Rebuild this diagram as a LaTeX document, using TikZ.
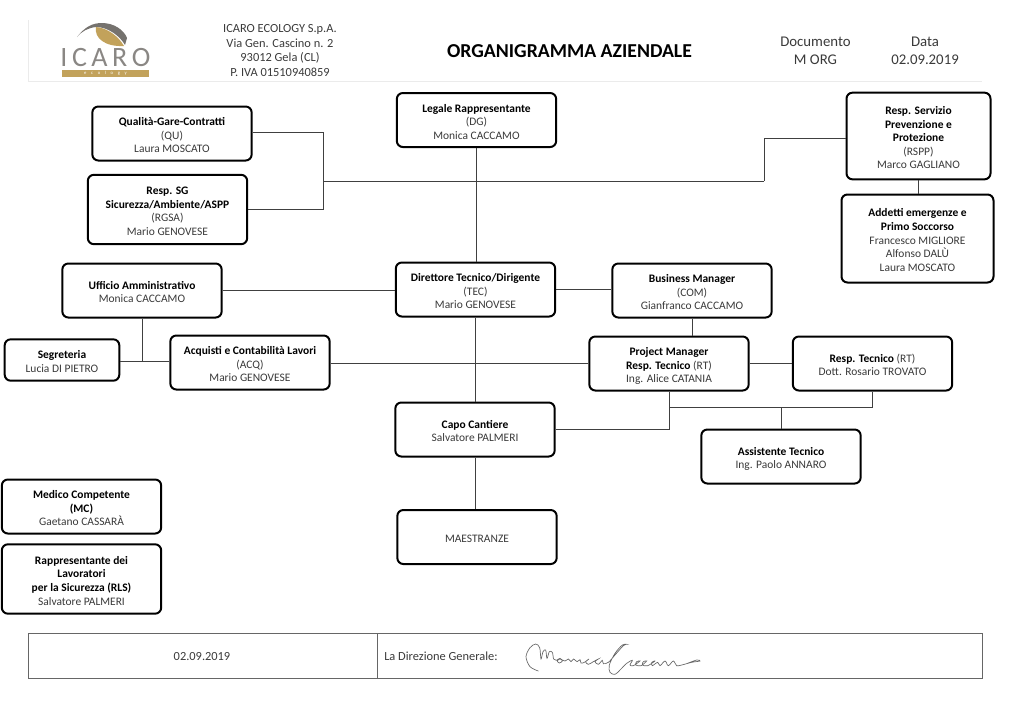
\documentclass[tikz,border=0pt]{standalone}
\usepackage{fontspec}
\setmainfont{Carlito}
\usepackage{tikz}
\usetikzlibrary{positioning, arrows.meta}
\usepackage{xcolor}
\definecolor{logogold}{HTML}{C2A25B}
\definecolor{logogrey}{HTML}{75726E}
\definecolor{txtgrey}{HTML}{3A3A3A}
\tikzset{
  box/.style={rectangle, rounded corners=4.5pt, draw=black, fill=white,
              line width=1.5pt, minimum width=119.5pt, minimum height=40.5pt,
              align=center, inner sep=0pt, text=txtgrey,
              font=\fontsize{8.6}{10.2}\selectfont},
  lnk/.style={draw=black!75, line width=0.7pt},
  hdtxt/.style={align=center, text=txtgrey, inner sep=0pt,
                font=\fontsize{9.3}{11.2}\selectfont},
  doctxt/.style={align=center, text=txtgrey, inner sep=0pt,
                 font=\fontsize{11.1}{13.5}\selectfont},
  cell/.style={text=txtgrey, inner sep=0pt, font=\fontsize{9.3}{10}\selectfont},
  frame/.style={draw=black!60, line width=0.7pt},
}
\newcommand{\hd}[1]{\textbf{\textcolor{black}{#1}}}
\newcommand{\low}[1]{\raisebox{-2.2pt}[\height][\depth]{\begin{tabular}{@{}c@{}}#1\end{tabular}}}
\begin{document}
\begin{tikzpicture}[x=0.75pt,y=-0.75pt]
  \useasboundingbox (0,0) rectangle (1024,715);

  % header
  \draw[black!8, line width=0.7pt] (28,20) -- (28,81) -- (982,81);
  \fill[logogrey] (77,37) .. controls (85,27) and (92,23) .. (102,23) .. controls (114,23) and (124,30) .. (127,38) -- (125,45) .. controls (120,36) and (108,27) .. (96,27) .. controls (88,28) and (82,31) .. (77,37) -- cycle;
  \fill[logogold] (96,27) .. controls (94,38) and (105,47) .. (124,46) .. controls (119,37) and (108,28) .. (96,27) -- cycle;
  \node[inner sep=0pt, text=logogrey!85, font=\fontsize{21}{21}\selectfont] (logotxt) at (105.5,58) {I\hspace{3.4pt}C\hspace{3.4pt}A\hspace{3.4pt}R\hspace{3.4pt}O};
  \node[inner sep=0pt, minimum width=65pt, minimum height=5pt, fill=logogold, text=white,
        font=\fontsize{3.5}{3.5}\selectfont] (logoband) at (105.5,73.5) {e\quad c\quad o\quad l\quad o\quad g\quad y};
  \node[hdtxt] (azienda) at (280,50.5) {ICARO ECOLOGY S.p.A.\\Via Gen. Cascino n. 2\\93012 Gela (CL)\\P. IVA 01510940859};
  \node[inner sep=0pt, font=\fontsize{14.8}{16}\selectfont\bfseries] (titolo) at (569.5,51) {ORGANIGRAMMA AZIENDALE};
  \node[doctxt] (documento) at (815.5,51) {Documento\\M ORG};
  \node[doctxt] (data) at (925,51) {Data\\02.09.2019};

  % boxes
  \node[box] (qu) at (172,133.5) {\low{\hd{Qualità-Gare-Contratti}\\(QU)\\Laura MOSCATO}};
  \node[box, minimum height=52pt] (rgsa) at (167.5,209.5) {\low{\hd{Resp. SG}\\\hd{Sicurezza/Ambiente/ASPP}\\(RGSA)\\Mario GENOVESE}};
  \node[box] (dg) at (476.5,120) {\low{\hd{Legale Rappresentante}\\(DG)\\Monica CACCAMO}};
  \node[box, minimum width=108pt, minimum height=65pt] (rspp) at (918.5,136) {\low{\hd{Resp. Servizio}\\\hd{Prevenzione e}\\\hd{Protezione}\\(RSPP)\\Marco GAGLIANO}};
  \node[box, minimum width=114pt, minimum height=66pt] (addetti) at (917.5,238.5) {\low{\hd{Addetti emergenze e}\\\hd{Primo Soccorso}\\Francesco MIGLIORE\\Alfonso DALÙ\\Laura MOSCATO}};
  \node[box] (uffamm) at (142,290.5) {\low{\hd{Ufficio Amministrativo}\\Monica CACCAMO}};
  \node[box] (tec) at (475.5,289.5) {\low{\hd{Direttore Tecnico/Dirigente}\\(TEC)\\Mario GENOVESE}};
  \node[box] (com) at (692,290.5) {\low{\hd{Business Manager}\\(COM)\\Gianfranco CACCAMO}};
  \node[box, minimum width=86pt, minimum height=31pt] (segr) at (62,360) {\low{\hd{Segreteria}\\Lucia DI PIETRO}};
  \node[box] (acq) at (250,362.5) {\low{\hd{Acquisti e Contabilità Lavori}\\(ACQ)\\Mario GENOVESE}};
  \node[box] (pm) at (669,363.5) {\low{\hd{Project Manager}\\\hd{Resp. Tecnico} (RT)\\Ing. Alice CATANIA}};
  \node[box] (rt) at (872.5,363.5) {\low{\hd{Resp. Tecnico} (RT)\\Dott. Rosario TROVATO}};
  \node[box] (capo) at (475,429.5) {\low{\hd{Capo Cantiere}\\Salvatore PALMERI}};
  \node[box] (assist) at (781,456.5) {\low{\hd{Assistente Tecnico}\\Ing. Paolo ANNARO}};
  \node[box] (mc) at (81.5,506.5) {\low{\hd{Medico Competente}\\\hd{(MC)}\\Gaetano CASSARÀ}};
  \node[box, minimum height=52pt] (rls) at (81.5,579) {\low{\hd{Rappresentante dei}\\\hd{Lavoratori}\\\hd{per la Sicurezza (RLS)}\\Salvatore PALMERI}};
  \node[box] (maestr) at (477,537) {\low{MAESTRANZE}};

  % connectors
  \coordinate (nodosx) at (323,181);
  \coordinate (nododx) at (764,181);
  \coordinate (nodosegr) at (141,361);
  \coordinate (nodopm) at (669,407);
  \coordinate (nodoass) at (781,407);
  \draw[lnk] ([yshift=1pt]qu.east) -| (nodosx);
  \draw[lnk] (rgsa.east) -| (nodosx);
  \draw[lnk] (nodosx) -- (nododx);
  \draw[lnk] (nododx) |- ([yshift=-2.2pt]rspp.west);
  \draw[lnk] (rspp.south) -- (rspp.south |- addetti.north);
  \draw[lnk] (dg.south) -- (dg.south |- tec.north);
  \draw[lnk] (uffamm.east) -- (uffamm.east -| tec.west);
  \draw[lnk] (tec.east) -- (tec.east -| com.west);
  \draw[lnk] (tec.south) -- (tec.south |- capo.north);
  \draw[lnk] (capo.south) -- (capo.south |- maestr.north);
  \draw[lnk] (uffamm.south) -- (uffamm.south |- nodosegr);
  \draw[lnk] (segr.east |- nodosegr) -- (acq.west |- nodosegr);
  \draw[lnk] (acq.east |- pm.west) -- (pm.west);
  \draw[lnk] (com.south) -- (com.south |- pm.north);
  \draw[lnk] (pm.east) -- (rt.west);
  \draw[lnk] (pm.south) |- (capo.east);
  \draw[lnk] (nodopm) -| (rt.south);
  \draw[lnk] (nodoass) -- (assist.north);

  % footer
  \draw[frame] (28,633) rectangle (982,678);
  \coordinate (divtop) at (377,633);
  \coordinate (divbot) at (377,678);
  \draw[frame] (divtop) -- (divbot);
  \node[cell] (datafirma) at (202,656.5) {02.09.2019};
  \node[cell, anchor=west] (direzione) at (384,656.5) {La Direzione Generale:};
  % firma
  \begin{scope}[shift={(515,635)},x=0.25pt,y=-0.25pt]
    \draw[black!60, line width=0.5pt, line cap=round] plot[smooth, tension=0.55] coordinates {
      (70,108) (45,95) (33,65) (45,38) (62,27) (74,38) (78,72) (84,50) (92,45) (96,70)
      (103,50) (112,52) (116,72) (124,76) (135,70) (142,78) (133,84) (127,78) (135,72)
      (150,78) (160,72) (168,80) (176,72) (186,80) (195,74) (198,84) (208,82) (222,72)
      (212,80) (220,88) (235,80) (250,72) (240,80) (250,88) (262,76) (265,86) (280,82)
      (300,60) (325,32) (335,28) (322,30) (300,55) (283,90) (285,112) (300,118) (315,105)
      (335,85) (352,76) (345,90) (355,92) (375,78) (365,80) (362,90) (378,92) (395,78)
      (385,80) (382,90) (398,92) (420,78) (410,82) (412,92) (428,82) (435,92) (450,78)
      (460,92) (475,78) (485,92) (500,90) (530,82) (555,78) (545,75) (515,86)};
  \end{scope}
\end{tikzpicture}
\end{document}
